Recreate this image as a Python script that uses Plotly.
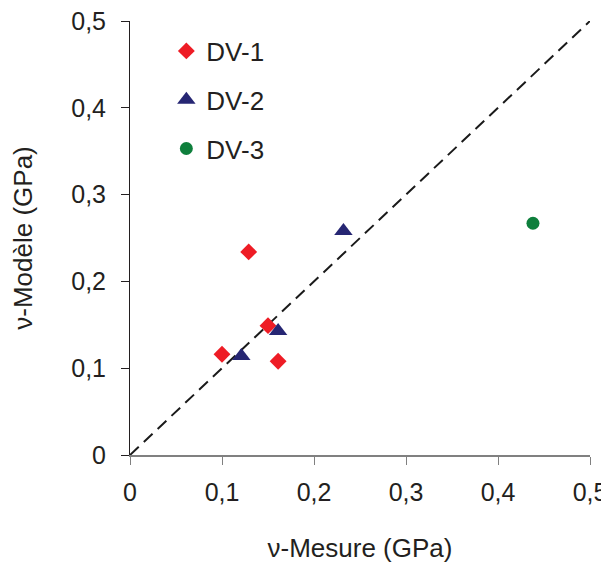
import plotly.graph_objects as go

dv1_x = [0.10, 0.129, 0.150, 0.161]
dv1_y = [0.116, 0.234, 0.149, 0.108]
dv2_x = [0.121, 0.161, 0.232]
dv2_y = [0.114, 0.143, 0.258]
dv3_x = [0.438]
dv3_y = [0.267]
line_x = [0, 0.5]
line_y = [0, 0.5]
tick_vals = [0, 0.1, 0.2, 0.3, 0.4, 0.5]
tick_text = ["0", "0,1", "0,2", "0,3", "0,4", "0,5"]

font = "Liberation Sans, Arial, sans-serif"

fig = go.Figure()
fig.add_trace(go.Scatter(x=line_x, y=line_y, mode="lines", showlegend=False,
                         line=dict(color="#1a1a1a", width=2, dash="12px,7px"), hoverinfo="skip"))
fig.add_trace(go.Scatter(x=dv1_x, y=dv1_y, mode="markers", name="DV-1", legendgroup="a",
                         marker=dict(symbol="diamond", color="#ee1c25", size=13)))
fig.add_trace(go.Scatter(x=dv2_x, y=dv2_y, mode="markers", name="DV-2", legendgroup="b",
                         marker=dict(symbol="triangle-up", color="#262673", size=16)))
fig.add_trace(go.Scatter(x=dv3_x, y=dv3_y, mode="markers", name="DV-3", legendgroup="c",
                         marker=dict(symbol="circle", color="#0e7f3c", size=13)))

fig.update_layout(
    width=601, height=555,
    margin=dict(l=122, r=19, t=13, b=108),
    plot_bgcolor="white", paper_bgcolor="white",
    font=dict(family=font, size=25, color="#231f20"),
    showlegend=True,
    legend=dict(x=0.079, y=0.985, xanchor="left", yanchor="top", bgcolor="rgba(0,0,0,0)",
                font=dict(size=26), tracegroupgap=12, itemwidth=30),
    xaxis=dict(range=[0, 0.5], tickvals=tick_vals, ticktext=tick_text, automargin=False,
               showgrid=False, zeroline=False, showline=True, linecolor="#808080", linewidth=2,
               ticks="outside", ticklen=8, tickcolor="#808080", tickwidth=1,
               ticklabelstandoff=6, ticklabeloverflow="allow",
               title=dict(text="ν-Mesure (GPa)", standoff=36, font=dict(size=26))),
    yaxis=dict(range=[0, 0.5], tickvals=tick_vals, ticktext=tick_text, automargin=False,
               showgrid=False, zeroline=False, showline=True, linecolor="#231f20", linewidth=1,
               ticks="outside", ticklen=8, tickcolor="#231f20", tickwidth=1,
               ticklabelstandoff=10, ticklabeloverflow="allow",
               title=dict(text="ν-Modèle (GPa)", standoff=38, font=dict(size=26))),
)

fig.write_html("out.html")
